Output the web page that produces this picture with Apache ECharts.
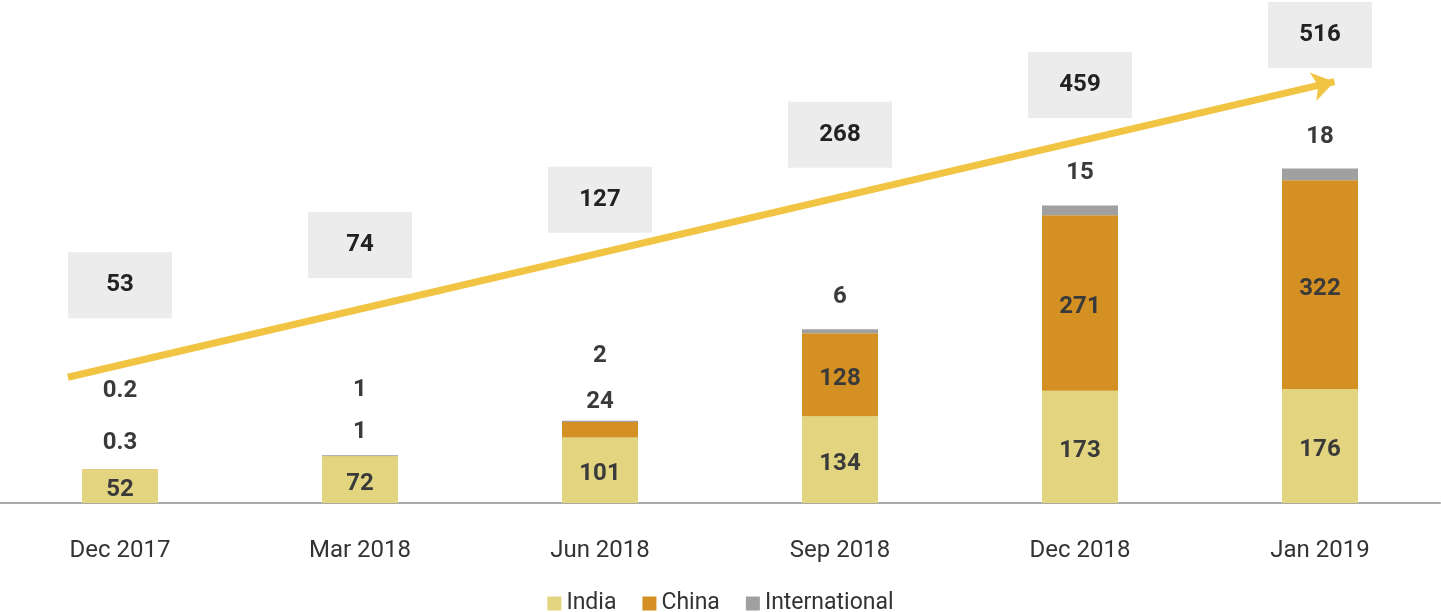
<!DOCTYPE html>
<html><head><meta charset="utf-8">
<script src="https://cdn.jsdelivr.net/npm/echarts@6/dist/echarts.min.js"></script>
<style>html,body{margin:0;padding:0;background:#fff}#c{width:1441px;height:612px}</style>
</head><body><div id="c"></div>
<script>
const categories = ['Dec 2017','Mar 2018','Jun 2018','Sep 2018','Dec 2018','Jan 2019'];
const india = [52,72,101,134,173,176];
const china = [0.3,1,24,128,271,322];
const intl = [0.2,1,2,6,15,18];
const totals = [53,74,127,268,459,516];
const boxLevels = [336,398,468,568,645,722];

const F = 'Roboto';
const lbl = {show:true,color:'#3a3a3a',fontFamily:F,fontWeight:'bold',fontSize:24};
const chart = echarts.init(document.getElementById('c'));
chart.setOption({
  animation:false,
  grid:{left:0,right:1,top:0,height:503},
  legend:{bottom:-8,left:'center',itemWidth:14,itemHeight:14,itemGap:26,icon:'rect',
    textStyle:{fontFamily:F,fontSize:23,color:'#333'},data:['India','China','International']},
  xAxis:[{type:'category',data:categories,axisTick:{show:false},
    axisLine:{lineStyle:{color:'#aaa',width:2}},
    axisLabel:{fontFamily:F,fontSize:24,color:'#333',margin:36}},
    {type:'value',min:-0.5,max:5.5,show:false}],
  yAxis:[{type:'value',min:0,max:776,show:false},{type:'value',min:0,max:776,show:false}],
  series:[
    {name:'India',type:'bar',stack:'s',barWidth:76,data:india,itemStyle:{color:'#e3d57f'},
      label:Object.assign({},lbl,{position:'inside',offset:[0,4]})},
    {name:'China',type:'bar',stack:'s',data:china.map((v,i)=>i<3?{value:v,label:{position:'top',offset:[0,0],distance:i==1?12:i==0?14:8}}:v),
      itemStyle:{color:'#d49022'},label:Object.assign({},lbl,{position:'inside',offset:[0,4]})},
    {name:'International',type:'bar',stack:'s',
      data:intl.map((v,i)=>i<3?{value:v,label:{offset:[0,i==0?-46:-33]}}:v),
      itemStyle:{color:'#a0a0a0'},label:Object.assign({},lbl,{position:'top',distance:20})},
    {type:'scatter',yAxisIndex:1,symbol:'rect',symbolSize:[104,66],
      data:boxLevels,itemStyle:{color:'#ececec',opacity:1},
      label:Object.assign({},lbl,{position:'inside',color:'#222',formatter:p=>totals[p.dataIndex]}),z:1},
    {type:'line',xAxisIndex:1,yAxisIndex:1,data:[],
      markLine:{silent:true,symbol:['none','arrow'],symbolSize:[22,22],label:{show:false},
        lineStyle:{color:'#f2c443',width:7,type:'solid'},
        data:[[{coord:[-0.217,194]},{coord:[5.06,650]}]]}}
  ]
});
</script></body></html>
